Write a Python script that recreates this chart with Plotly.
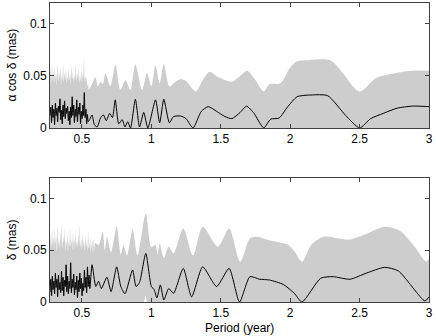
import plotly.graph_objects as go
from plotly.subplots import make_subplots

# -------------------------
# 上圖：α cos δ
# -------------------------
top_env_x = [0.270, 0.275, 0.280, 0.285, 0.290, 0.295, 0.300, 0.305, 0.310, 0.315,
             0.320, 0.325, 0.330, 0.335, 0.340, 0.345, 0.350, 0.355, 0.360, 0.365,
             0.370, 0.375, 0.380, 0.385, 0.390, 0.395, 0.400, 0.405, 0.410, 0.415,
             0.420, 0.425, 0.430, 0.435, 0.440, 0.445, 0.450, 0.455, 0.460, 0.465,
             0.470, 0.475, 0.480, 0.485, 0.490, 0.495, 0.500, 0.505, 0.510, 0.515,
             0.520, 0.525, 0.530, 0.535, 0.540, 0.545, 0.550,
             0.575, 0.597, 0.615, 0.633, 0.650, 0.669, 0.705, 0.741, 0.777, 0.813,
             0.849, 0.885, 0.933, 0.969, 1.000, 1.030, 1.060, 1.090, 1.130, 1.170,
             1.210, 1.250, 1.320, 1.370, 1.420, 1.480, 1.580, 1.640, 1.690, 1.740,
             1.810, 1.850, 1.930, 2.000, 2.050, 2.120, 2.290, 2.380, 2.500, 2.620,
             2.770, 2.880, 3.000]
top_env = [0.038, 0.058, 0.044, 0.062, 0.046, 0.055, 0.043, 0.060, 0.047, 0.052,
           0.041, 0.063, 0.045, 0.054, 0.048, 0.058, 0.042, 0.051, 0.046, 0.061,
           0.044, 0.053, 0.047, 0.057, 0.043, 0.050, 0.045, 0.059, 0.046, 0.052,
           0.042, 0.060, 0.047, 0.054, 0.044, 0.051, 0.046, 0.062, 0.045, 0.053,
           0.048, 0.058, 0.043, 0.050, 0.046, 0.056, 0.044, 0.052, 0.048, 0.067,
           0.046, 0.050, 0.044, 0.049, 0.040, 0.043, 0.037,
           0.043, 0.049, 0.040, 0.0445, 0.042, 0.0526, 0.040, 0.0606, 0.0365, 0.046,
           0.0365, 0.0606, 0.0365, 0.0526, 0.040, 0.060, 0.043, 0.0615, 0.040, 0.044,
           0.047, 0.045, 0.035, 0.046, 0.054, 0.049, 0.0445, 0.050, 0.055, 0.048,
           0.035, 0.042, 0.043, 0.058, 0.064, 0.065, 0.065, 0.0526, 0.035, 0.048,
           0.053, 0.055, 0.055]

top_line_x = [0.270, 0.276, 0.281, 0.287, 0.292, 0.298, 0.303, 0.309, 0.314, 0.320,
              0.325, 0.331, 0.336, 0.342, 0.347, 0.353, 0.358, 0.364, 0.369, 0.375,
              0.380, 0.386, 0.391, 0.397, 0.402, 0.408, 0.413, 0.419, 0.424, 0.430,
              0.435, 0.441, 0.446, 0.452, 0.457, 0.463, 0.468, 0.474, 0.479, 0.485,
              0.490, 0.496, 0.501, 0.507, 0.512, 0.517, 0.523, 0.529, 0.534, 0.540,
              0.545,
              0.555, 0.573, 0.590, 0.610, 0.635, 0.655, 0.675, 0.700, 0.720, 0.740,
              0.765, 0.790, 0.810, 0.830, 0.850, 0.885, 0.915, 0.945, 0.975, 1.030,
              1.060, 1.090, 1.130, 1.160, 1.210, 1.250, 1.300, 1.360, 1.410, 1.470,
              1.530, 1.580, 1.640, 1.685, 1.740, 1.780, 1.810, 1.860, 1.920, 1.980,
              2.050, 2.150, 2.270, 2.400, 2.500, 2.580, 2.670, 2.770, 2.880, 3.000]
top_line = [0.012, 0.020, 0.005, 0.022, 0.010, 0.018, 0.003, 0.024, 0.012, 0.019,
            0.006, 0.021, 0.015, 0.028, 0.008, 0.017, 0.004, 0.022, 0.011, 0.026,
            0.009, 0.019, 0.014, 0.021, 0.007, 0.016, 0.003, 0.020, 0.010, 0.030,
            0.012, 0.022, 0.005, 0.018, 0.011, 0.027, 0.006, 0.020, 0.013, 0.024,
            0.004, 0.016, 0.009, 0.022, 0.012, 0.034, 0.010, 0.018, 0.004, 0.013,
            0.006,
            0.008, 0.0125, 0.003, 0.001, 0.010, 0.0125, 0.007, 0.014, 0.010, 0.027,
            0.004, 0.008, 0.001, 0.006, 0.000, 0.0276, 0.001, 0.015, 0.000, 0.027,
            0.005, 0.0276, 0.005, 0.011, 0.0115, 0.009, 0.000, 0.016, 0.0205, 0.016,
            0.011, 0.009, 0.015, 0.021, 0.014, 0.005, 0.000, 0.0085, 0.0095, 0.020,
            0.030, 0.0317, 0.031, 0.012, 0.000, 0.009, 0.014, 0.019, 0.021, 0.0205]

# -------------------------
# 下圖：δ
# -------------------------
bot_env_x = [0.270, 0.275, 0.280, 0.285, 0.290, 0.295, 0.300, 0.305, 0.310, 0.315,
             0.320, 0.325, 0.330, 0.335, 0.340, 0.345, 0.350, 0.355, 0.360, 0.365,
             0.370, 0.375, 0.380, 0.385, 0.390, 0.395, 0.400, 0.405, 0.410, 0.415,
             0.420, 0.425, 0.430, 0.435, 0.440, 0.445, 0.450, 0.455, 0.460, 0.465,
             0.470, 0.475, 0.480, 0.485, 0.490, 0.495, 0.500, 0.505, 0.510, 0.515,
             0.520, 0.525, 0.530, 0.535, 0.540, 0.545, 0.550, 0.555, 0.560, 0.565,
             0.570, 0.575, 0.580, 0.585, 0.590, 0.595,
             0.620, 0.650, 0.665, 0.680, 0.710, 0.750, 0.780, 0.800, 0.825, 0.865,
             0.900, 0.960, 1.000, 1.030, 1.045, 1.060, 1.090, 1.125, 1.160, 1.230,
             1.300, 1.370, 1.480, 1.560, 1.640, 1.710, 1.760, 1.830, 1.950, 1.990,
             2.030, 2.085, 2.150, 2.240, 2.330, 2.430, 2.550, 2.680, 2.790, 2.900,
             2.980, 3.000]
bot_env = [0.044, 0.066, 0.052, 0.070, 0.055, 0.063, 0.050, 0.072, 0.056, 0.064,
           0.049, 0.075, 0.055, 0.062, 0.051, 0.068, 0.054, 0.077, 0.052, 0.063,
           0.057, 0.071, 0.050, 0.060, 0.055, 0.066, 0.049, 0.059, 0.053, 0.072,
           0.054, 0.061, 0.050, 0.067, 0.056, 0.062, 0.051, 0.070, 0.055, 0.060,
           0.052, 0.066, 0.054, 0.074, 0.053, 0.061, 0.050, 0.066, 0.054, 0.060,
           0.049, 0.065, 0.053, 0.058, 0.050, 0.068, 0.052, 0.058, 0.048, 0.063,
           0.051, 0.060, 0.047, 0.062, 0.050, 0.057,
           0.055, 0.068, 0.050, 0.063, 0.048, 0.073, 0.046, 0.055, 0.045, 0.070,
           0.045, 0.0857, 0.053, 0.055, 0.046, 0.0567, 0.0425, 0.0535, 0.047, 0.071,
           0.045, 0.0728, 0.0535, 0.071, 0.039, 0.0615, 0.063, 0.0605, 0.0567, 0.055,
           0.049, 0.039, 0.055, 0.063, 0.062, 0.0605, 0.066, 0.0728, 0.069, 0.053,
           0.039, 0.042]
# 灰色區下緣（0.96 年附近有小缺口）
bot_low_x = [0.270, 0.948, 0.958, 0.968, 3.000]
bot_low = [0.0, 0.0, 0.006, 0.0, 0.0]

bot_line_x = [0.270, 0.276, 0.281, 0.287, 0.292, 0.298, 0.303, 0.309, 0.314, 0.320,
              0.325, 0.331, 0.336, 0.342, 0.347, 0.353, 0.358, 0.364, 0.369, 0.375,
              0.380, 0.386, 0.391, 0.397, 0.402, 0.408, 0.413, 0.419, 0.424, 0.430,
              0.435, 0.441, 0.446, 0.452, 0.457, 0.463, 0.468, 0.474, 0.479, 0.485,
              0.490, 0.496, 0.501, 0.507, 0.512, 0.518, 0.523, 0.529, 0.534, 0.540,
              0.545, 0.551, 0.557,
              0.573, 0.600, 0.620, 0.640, 0.680, 0.710, 0.750, 0.780, 0.810, 0.865,
              0.890, 0.915, 0.960, 1.000, 1.020, 1.040, 1.065, 1.090, 1.125, 1.160,
              1.230, 1.290, 1.370, 1.470, 1.560, 1.635, 1.710, 1.780, 1.850, 1.950,
              2.030, 2.085, 2.220, 2.310, 2.430, 2.550, 2.680, 2.780, 2.970, 3.000]
bot_line = [0.010, 0.022, 0.006, 0.025, 0.012, 0.020, 0.008, 0.028, 0.014, 0.022,
            0.005, 0.026, 0.012, 0.019, 0.009, 0.030, 0.011, 0.024, 0.006, 0.021,
            0.015, 0.036, 0.010, 0.025, 0.008, 0.020, 0.013, 0.038, 0.009, 0.022,
            0.014, 0.027, 0.007, 0.019, 0.012, 0.025, 0.004, 0.021, 0.010, 0.028,
            0.013, 0.023, 0.006, 0.018, 0.011, 0.031, 0.014, 0.024, 0.009, 0.034,
            0.015, 0.026, 0.013,
            0.036, 0.015, 0.020, 0.013, 0.024, 0.010, 0.034, 0.015, 0.008, 0.031,
            0.015, 0.019, 0.047, 0.015, 0.012, 0.004, 0.0165, 0.002, 0.013, 0.0084,
            0.0325, 0.005, 0.034, 0.015, 0.0325, 0.000, 0.0245, 0.022, 0.0213, 0.017,
            0.0084, 0.000, 0.023, 0.0245, 0.022, 0.028, 0.0335, 0.030, 0.001, 0.005]

x_ticks = [0.5, 1, 1.5, 2, 2.5, 3]
x_labels = ["0.5", "1", "1.5", "2", "2.5", "3"]
y_ticks = [0, 0.05, 0.1]
y_labels = ["0", "0.05", "0.1"]

GRAY = "#cdcdcd"
FONT = "Liberation Sans, Arial, sans-serif"

fig = make_subplots(rows=2, cols=1, vertical_spacing=0.167)

# 上圖
fig.add_trace(go.Scatter(x=top_env_x, y=top_env, mode="lines", fill="tozeroy",
                         fillcolor=GRAY, line=dict(width=0, color=GRAY, shape="spline", smoothing=0.8),
                         showlegend=False), row=1, col=1)
fig.add_trace(go.Scatter(x=top_line_x, y=top_line, mode="lines",
                         line=dict(width=1, color="black", shape="spline", smoothing=0.6),
                         showlegend=False), row=1, col=1)

# 下圖
fig.add_trace(go.Scatter(x=bot_low_x, y=bot_low, mode="lines",
                         line=dict(width=0, color="white"), showlegend=False), row=2, col=1)
fig.add_trace(go.Scatter(x=bot_env_x, y=bot_env, mode="lines", fill="tonexty",
                         fillcolor=GRAY, line=dict(width=0, color=GRAY, shape="spline", smoothing=0.8),
                         showlegend=False), row=2, col=1)
fig.add_trace(go.Scatter(x=bot_line_x, y=bot_line, mode="lines",
                         line=dict(width=1, color="black", shape="spline", smoothing=0.6),
                         showlegend=False), row=2, col=1)

axis_style = dict(showline=True, linecolor="#404040", linewidth=1, mirror="ticks",
                  ticks="inside", ticklen=4, tickcolor="#404040", showgrid=False,
                  zeroline=False, automargin=False, tickfont=dict(size=12, color="black"))

for r in (1, 2):
    fig.update_xaxes(range=[0.27, 3.0], tickvals=x_ticks, ticktext=x_labels,
                     **axis_style, row=r, col=1)
    fig.update_yaxes(range=[0, 0.12], tickvals=y_ticks, ticktext=y_labels,
                     **axis_style, row=r, col=1)

fig.update_yaxes(domain=[0.582, 1.0], row=1, col=1)
fig.update_yaxes(domain=[0.0, 0.415], row=2, col=1)

# 軸標題（以註解放置，位置較好控制）
titles = [
    dict(text="α cos δ (mas)", x=-0.100, y=0.791, textangle=-90),
    dict(text="δ (mas)", x=-0.100, y=0.207, textangle=-90),
    dict(text="Period (year)", x=0.5, y=-0.087, textangle=0),
]
for t in titles:
    fig.add_annotation(xref="paper", yref="paper", showarrow=False,
                       xanchor="center", yanchor="middle",
                       font=dict(size=12, color="black"), **t)

fig.update_layout(
    width=436, height=336,
    margin=dict(l=50, r=7, t=3, b=34),
    plot_bgcolor="white", paper_bgcolor="white",
    font=dict(family=FONT, size=12, color="black"),
)

# 頁面預設 body 有 8px 邊距，去掉；不顯示工具列
fig.write_html("out.html", config={"displayModeBar": False},
               post_script="document.body.style.margin='0';")
